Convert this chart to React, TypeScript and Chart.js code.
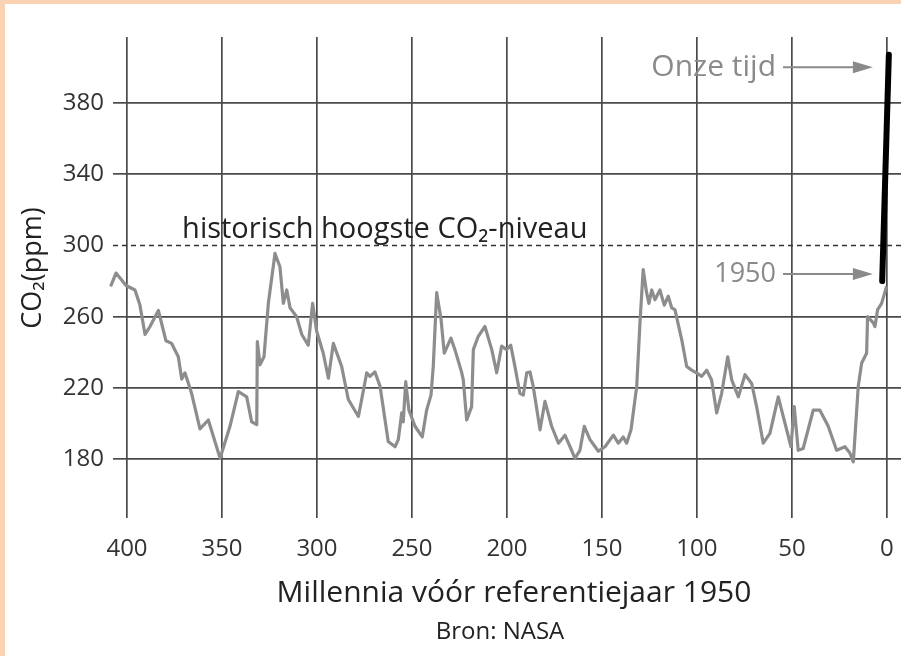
import React, { useEffect, useRef } from "react";
import { Chart, registerables } from "chart.js";

Chart.register(...registerables);

// ---- Data ----
const xTicks = [400, 350, 300, 250, 200, 150, 100, 50, 0];
const yTicks = [180, 220, 260, 300, 340, 380];

const co2Millennia = [
  408.6, 405.8, 400.5, 395.8, 393.2, 390.5, 387.9, 383.5, 379.5, 376.5,
  373, 371.2, 369.5, 366, 361.6, 357.2, 351, 345.8, 341.4, 337,
  334.4, 331.7, 331.4, 330, 327.9, 325.6, 322.1, 319.5, 317.7, 315.9,
  314.2, 310.7, 308, 304.6, 302.3, 300.2, 296.7, 294, 291.4, 287,
  283.5, 278.2, 273.8, 272.1, 269.5, 266.8, 262.5, 258.9, 257.2, 255.4,
  254.6, 253.3, 251.6, 248.4, 244.6, 242.3, 240, 238.8, 237, 234.7,
  233, 229.5, 227.4, 223.8, 223, 221.2, 218.6, 217.7, 215.1, 211.6,
  208, 205.4, 202.8, 200.2, 198, 195.8, 193.2, 191.4, 189.6, 187.9,
  186.2, 182.6, 180, 176.5, 172.9, 169.5, 166.8, 164.2, 161.6, 159.3,
  156.3, 151.9, 148.4, 144, 141.4, 138.8, 137, 134.7, 131.7, 130,
  128.3, 126.5, 125.3, 123.8, 122.1, 119.5, 117.2, 115.1, 113.3, 111.6,
  108, 105.4, 102.8, 99.6, 97.5, 94.9, 92.3, 89.6, 87, 83.8,
  81.7, 78.2, 74.7, 71.2, 68.6, 65.1, 61.6, 57.2, 54.6, 50.5,
  48.8, 46.7, 44.1, 38.8, 35.3, 30.9, 26.5, 22.1, 19.5, 17.7,
  15.1, 13.3, 10.7, 10.2, 7.2, 6.3, 4.9, 2.8, 0.2,
];

const co2Ppm = [
  277, 284.5, 277.5, 275, 266.5, 250, 254.5, 263.5, 246.5, 245,
  237.5, 225, 228.5, 217, 197, 202, 180.5, 198.5, 218, 215,
  201, 199.5, 246, 233, 237.5, 267.5, 295.5, 288, 267.5, 275,
  265, 260, 250, 244, 267.5, 252, 239.5, 225.5, 245, 232,
  213.5, 204, 228.5, 226.5, 229, 221, 190, 187, 191, 206,
  201, 223.5, 207.5, 198.5, 192.5, 207.5, 216, 232, 273.5, 258.5,
  239.5, 248, 241.5, 228.5, 224.5, 202, 209.5, 241.5, 249, 254.5,
  241.5, 228.5, 243.5, 241.5, 244, 232, 217, 216, 228.5, 229,
  221, 196.5, 212.5, 198.5, 189, 193.5, 187, 180.5, 185, 198.5,
  191, 184.5, 187, 193.5, 189, 192.5, 189, 196.5, 221, 256.5,
  286.5, 273.5, 267.5, 275, 269.5, 275, 266.5, 271.5, 265, 264,
  247, 232, 230, 228, 226.5, 230, 224.5, 206, 217, 237.5,
  224.5, 215, 227.5, 222.5, 209.5, 189, 194.5, 215, 204, 187,
  209.5, 185, 186, 207.5, 207.5, 198.5, 185, 187, 183.5, 178.5,
  221, 234, 239.5, 260, 256.5, 254.5, 264, 267.5, 277,
];

const modernMillennia = [2.5, -1];
const modernPpm = [280, 407];

const historicMax = 300;
const historicLabel = "historisch hoogste CO\u2082-niveau";
const nowLabel = "Onze tijd";
const nowPpm = 400;
const label1950 = "1950";
const ppm1950 = 284;
const xTitle = "Millennia vóór referentiejaar 1950";
const yTitle = "CO\u2082(ppm)";
const sourceLabel = "Bron: NASA";

// ---- Styles ----
const FONT = "'Open Sans', 'DejaVu Sans', sans-serif";
const GRID = "#4a4a4a";
const SERIES = "#8d8d8d";
const NOTE = "#8a8a8a";
const TEXT = "#222222";

function drawArrow(ctx: CanvasRenderingContext2D, x1: number, x2: number, y: number) {
  ctx.strokeStyle = NOTE;
  ctx.fillStyle = NOTE;
  ctx.lineWidth = 2;
  ctx.beginPath();
  ctx.moveTo(x1, y);
  ctx.lineTo(x2 - 16, y);
  ctx.stroke();
  ctx.beginPath();
  ctx.moveTo(x2, y);
  ctx.lineTo(x2 - 20, y - 6);
  ctx.lineTo(x2 - 20, y + 6);
  ctx.closePath();
  ctx.fill();
}

const annotationPlugin = {
  id: "co2Annotations",
  beforeDatasetsDraw(chart: any) {
    const { ctx, chartArea, scales } = chart;
    const y = scales.y;
    const yy = y.getPixelForValue(historicMax);
    ctx.save();
    ctx.strokeStyle = "#333";
    ctx.lineWidth = 1.5;
    ctx.setLineDash([5, 4]);
    ctx.beginPath();
    ctx.moveTo(chartArea.left - 14, yy);
    ctx.lineTo(chartArea.right, yy);
    ctx.stroke();
    ctx.restore();
  },
  afterDatasetsDraw(chart: any) {
    const { ctx, scales } = chart;
    const x = scales.x;
    const y = scales.y;
    ctx.save();
    // historic label
    ctx.fillStyle = TEXT;
    ctx.font = `29px ${FONT}`;
    ctx.textAlign = "left";
    ctx.textBaseline = "alphabetic";
    ctx.fillText(historicLabel, x.getPixelForValue(371), y.getPixelForValue(historicMax) - 7);

    // arrows with notes
    ctx.fillStyle = NOTE;
    ctx.textAlign = "right";
    ctx.textBaseline = "middle";
    const tx = x.getPixelForValue(58.4);
    const a1 = x.getPixelForValue(54.7);
    const a2 = x.getPixelForValue(7.4);
    const yNow = y.getPixelForValue(nowPpm);
    const y50 = y.getPixelForValue(ppm1950);
    ctx.font = `30px ${FONT}`;
    ctx.fillText(nowLabel, tx, yNow);
    ctx.font = `27px ${FONT}`;
    ctx.fillText(label1950, tx, y50);
    drawArrow(ctx, a1, a2, yNow);
    drawArrow(ctx, a1, a2, y50);

    // y title
    ctx.save();
    ctx.translate(33, 268);
    ctx.rotate(-Math.PI / 2);
    ctx.fillStyle = TEXT;
    ctx.font = `27px ${FONT}`;
    ctx.textAlign = "center";
    ctx.textBaseline = "middle";
    ctx.fillText(yTitle, 0, 0);
    ctx.restore();

    // source
    ctx.fillStyle = TEXT;
    ctx.font = `24px ${FONT}`;
    ctx.textAlign = "center";
    ctx.textBaseline = "middle";
    ctx.fillText(sourceLabel, 500, 632);
    ctx.restore();
  },
};

export default function App() {
  const ref = useRef<HTMLCanvasElement>(null);

  useEffect(() => {
    if (!ref.current) return;
    const chart = new Chart(ref.current, {
      type: "line",
      data: {
        datasets: [
          {
            data: co2Millennia.map((m, i) => ({ x: m, y: co2Ppm[i] })),
            borderColor: SERIES,
            borderWidth: 3.2,
            pointRadius: 0,
            tension: 0,
            clip: false as any,
            borderJoinStyle: "round",
          },
          {
            data: modernMillennia.map((m, i) => ({ x: m, y: modernPpm[i] })),
            borderColor: "#000",
            borderWidth: 6,
            pointRadius: 0,
            borderCapStyle: "round",
            clip: false as any,
          },
        ],
      },
      options: {
        responsive: false,
        animation: false,
        layout: { padding: { top: 37, left: 0, right: 0, bottom: 0 } },
        plugins: {
          legend: { display: false },
          tooltip: { enabled: false },
        },
        scales: {
          x: {
            type: "linear",
            reverse: true,
            min: -7.4,
            max: 400,
            afterBuildTicks: (s: any) => {
              s.ticks = xTicks.map((v) => ({ value: v }));
            },
            afterFit: (s: any) => {
              s.height = 138;
              s.paddingLeft = 0;
              s.paddingRight = 0;
            },
            grid: { color: GRID, lineWidth: 1.7, drawTicks: false },
            border: { display: false },
            ticks: {
              padding: 17,
              color: "#333",
              font: { family: FONT, size: 24 },
              maxRotation: 0,
              autoSkip: false,
            },
            title: {
              display: true,
              text: xTitle,
              color: TEXT,
              font: { family: FONT, size: 30 },
              padding: { top: 0, bottom: 45 },
            },
          },
          y: {
            type: "linear",
            min: 147,
            max: 417,
            afterBuildTicks: (s: any) => {
              s.ticks = yTicks.map((v) => ({ value: v }));
            },
            afterFit: (s: any) => {
              s.width = 127;
              s.paddingTop = 0;
              s.paddingBottom = 0;
            },
            grid: {
              color: (c: any) => (c.tick && c.tick.value === historicMax ? "rgba(0,0,0,0)" : GRID),
              tickColor: (c: any) => (c.tick && c.tick.value === historicMax ? "rgba(0,0,0,0)" : GRID),
              lineWidth: 1.7,
              tickLength: 14,
              drawTicks: true,
            },
            border: { display: false },
            ticks: {
              padding: 9,
              color: "#333",
              font: { family: FONT, size: 24 },
              autoSkip: false,
            },
          },
        },
      },
      plugins: [annotationPlugin],
    } as any);
    return () => chart.destroy();
  }, []);

  return (
    <div style={{ position: "fixed", left: 0, top: 0, width: 901, height: 656, background: "#fad3b5" }}>
      <div style={{ position: "absolute", left: 5, top: 4, right: 0, bottom: 0, background: "#ffffff" }} />
      <canvas
        ref={ref}
        width={901}
        height={656}
        style={{ position: "absolute", left: 0, top: 0, width: 901, height: 656 }}
      />
    </div>
  );
}
